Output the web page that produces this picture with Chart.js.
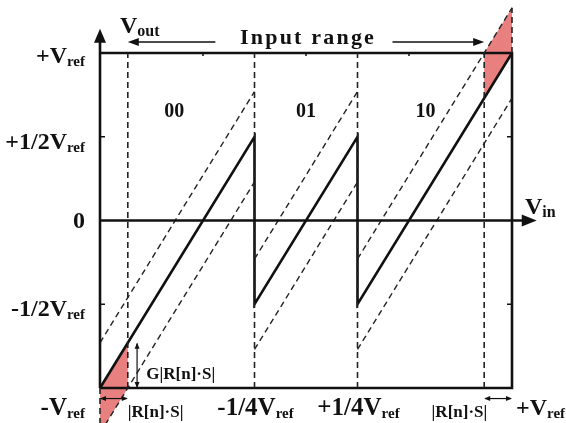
<!DOCTYPE html>
<html><head><meta charset="utf-8">
<script src="https://cdn.jsdelivr.net/npm/chart.js@4/dist/chart.umd.min.js"></script>
<style>html,body{margin:0;padding:0;background:#fff;}canvas{display:block;}</style>
</head><body>
<canvas id="c" width="566" height="423"></canvas>
<script>
// ---- data (normalised to Vref) ----
const sawX = [-1, -0.25, -0.25, 0.25, 0.25, 1];
const sawY = [-1, 0.5, -0.5, 0.5, -0.5, 1];
const upperDashX = [[-1, -0.25], [-0.25, 0.25], [0.25, 1]];
const upperDashY = [[-0.73, 0.77], [-0.23, 0.77], [-0.23, 1.27]];
const lowerDashX = [[-1, -0.25], [-0.25, 0.25], [0.25, 1]];
const lowerDashY = [[-1.27, 0.23], [-0.77, 0.23], [-0.77, 0.73]];
const boundaryX = [-0.865, -0.25, 0.25, 0.865, 1, -1];
const boundaryFrom = [-1, -1, -1, -1, 1, -1];
const boundaryTo = [1, 1, 1, 1, 1.27, -1.27];
const shadeTopX = [0.865, 0.865, 1, 1];
const shadeTopY = [0.73, 1.0, 1.27, 1.0];
const shadeBotX = [-1, -0.865, -0.865, -1];
const shadeBotY = [-1, -0.73, -1.0, -1.27];
const codeLabels = ['00', '01', '10'];
const codeX = [-0.64, 0.0, 0.58];
const codeY = 0.62;
const yTickVals = [1, 0.5, 0, -0.5];
const yTickMain = ['+V', '+1/2V', '0', '-1/2V'];
const yTickSub = ['ref', 'ref', '', 'ref'];
const xTickVals = [-1, -0.25, 0.25, 1];
const xTickMain = ['-V', '-1/4V', '+1/4V', '+V'];
const xTickSub = ['ref', 'ref', 'ref', 'ref'];
const rsLabel = '|R[n]\u00B7S|';
const gLabel = 'G|R[n]\u00B7S|';
const rangeTitle = 'Input range';

const FONT = "'Liberation Serif','Times New Roman',serif";
const INK = '#111';
const RED = 'rgb(232,128,128)';

const pts = (xa, ya) => xa.map((x, i) => ({x, y: ya[i]}));
const datasets = [];
for (let i = 0; i < upperDashX.length; i++) {
  datasets.push({data: pts(upperDashX[i], upperDashY[i]), showLine: true, borderColor: '#222', borderWidth: 1.4, borderDash: [6, 4]});
  datasets.push({data: pts(lowerDashX[i], lowerDashY[i]), showLine: true, borderColor: '#222', borderWidth: 1.4, borderDash: [6, 4]});
}
for (let i = 0; i < boundaryX.length; i++) {
  datasets.push({data: [{x: boundaryX[i], y: boundaryFrom[i]}, {x: boundaryX[i], y: boundaryTo[i]}], showLine: true, borderColor: '#222', borderWidth: 1.6, borderDash: [6, 4]});
}
datasets.push({data: pts(sawX, sawY), showLine: true, borderColor: INK, borderWidth: 2.6});
// frame
datasets.push({data: [{x: -1, y: 1}, {x: 1, y: 1}, {x: 1, y: -1}, {x: -1, y: -1}], showLine: true, borderColor: INK, borderWidth: 2.6});

datasets.forEach(d => { d.clip = false; d.pointRadius = 0; d.tension = 0; });

function label(ctx, main, sub, x, y, align, size, subSize) {
  ctx.font = `bold ${size}px ${FONT}`;
  const w1 = ctx.measureText(main).width;
  ctx.font = `bold ${subSize}px ${FONT}`;
  const w2 = sub ? ctx.measureText(sub).width : 0;
  let x0 = align === 'right' ? x - w1 - w2 : align === 'center' ? x - (w1 + w2) / 2 : x;
  ctx.textAlign = 'left';
  ctx.textBaseline = 'alphabetic';
  ctx.font = `bold ${size}px ${FONT}`;
  ctx.fillText(main, x0, y);
  if (sub) { ctx.font = `bold ${subSize}px ${FONT}`; ctx.fillText(sub, x0 + w1, y + 3); }
}
function head(ctx, tx, ty, dx, dy, len, half) {
  const px = -dy, py = dx;
  ctx.beginPath();
  ctx.moveTo(tx, ty);
  ctx.lineTo(tx - dx * len + px * half, ty - dy * len + py * half);
  ctx.lineTo(tx - dx * len - px * half, ty - dy * len - py * half);
  ctx.closePath();
  ctx.fill();
}
function seg(ctx, x1, y1, x2, y2, w) {
  ctx.lineWidth = w; ctx.beginPath(); ctx.moveTo(x1, y1); ctx.lineTo(x2, y2); ctx.stroke();
}

const shading = {
  id: 'shading',
  beforeDatasetsDraw(chart) {
    const ctx = chart.ctx, xs = chart.scales.x, ys = chart.scales.y;
    ctx.save();
    ctx.fillStyle = RED;
    [[shadeTopX, shadeTopY], [shadeBotX, shadeBotY]].forEach(([xa, ya]) => {
      ctx.beginPath();
      xa.forEach((x, i) => {
        const px = xs.getPixelForValue(x), py = ys.getPixelForValue(ya[i]);
        i ? ctx.lineTo(px, py) : ctx.moveTo(px, py);
      });
      ctx.closePath();
      ctx.fill();
    });
    ctx.restore();
  }
};

const overlay = {
  id: 'overlay',
  afterDatasetsDraw(chart) {
    const ctx = chart.ctx, xs = chart.scales.x, ys = chart.scales.y;
    const X = v => xs.getPixelForValue(v), Y = v => ys.getPixelForValue(v);
    ctx.save();
    ctx.strokeStyle = INK; ctx.fillStyle = INK; ctx.setLineDash([]);
    // axes
    seg(ctx, X(-1), Y(-1), X(-1), Y(1.1), 2.6);
    head(ctx, X(-1), Y(1.145), 0, -1, 14, 6);
    seg(ctx, X(-1), Y(0), X(1.07), Y(0), 2.6);
    head(ctx, X(1.12), Y(0), 1, 0, 15, 6);
    // tick marks
    [0.5, -0.5].forEach(v => { seg(ctx, X(-1), Y(v), X(-1) + 5, Y(v), 1.5); seg(ctx, X(1), Y(v), X(1) - 5, Y(v), 1.5); });
    [-0.5, 0, 0.5].forEach(v => seg(ctx, X(v), Y(1), X(v), Y(1) + 3, 1.5));
    // input range arrows
    const yr = Y(1.066);
    seg(ctx, X(-0.44), yr, X(-0.85), yr, 1.5);
    head(ctx, X(-0.865), yr, -1, 0, 11, 4);
    seg(ctx, X(0.42), yr, X(0.85), yr, 1.5);
    head(ctx, X(0.865), yr, 1, 0, 11, 4);
    ctx.save();
    ctx.font = `bold 22px ${FONT}`;
    ctx.letterSpacing = '2.2px';
    ctx.textAlign = 'left'; ctx.textBaseline = 'alphabetic';
    const tw = ctx.measureText(rangeTitle).width;
    ctx.fillText(rangeTitle, X(0.01) - tw / 2, Y(1.06) + 1);
    ctx.restore();
    // small R*S arrows at bottom
    const yb = Y(-1.063);
    seg(ctx, X(-0.995), yb, X(-0.87), yb, 1.2);
    head(ctx, X(-1), yb, -1, 0, 6, 2.5); head(ctx, X(-0.865), yb, 1, 0, 6, 2.5);
    seg(ctx, X(0.87), yb, X(0.995), yb, 1.2);
    head(ctx, X(0.865), yb, -1, 0, 6, 2.5); head(ctx, X(1), yb, 1, 0, 6, 2.5);
    // G*R*S vertical arrow
    const xg = X(-0.82);
    seg(ctx, xg, Y(-0.735), xg, Y(-0.995), 1.2);
    head(ctx, xg, Y(-0.73), 0, -1, 6, 2.5); head(ctx, xg, Y(-1), 0, 1, 6, 2.5);
    ctx.font = `bold 17px ${FONT}`; ctx.textAlign = 'left'; ctx.textBaseline = 'alphabetic';
    ctx.fillText(gLabel, X(-0.775), Y(-0.91) + 6);
    ctx.fillText(rsLabel, X(-0.865), Y(-1) + 29);
    ctx.textAlign = 'right';
    ctx.fillText(rsLabel, X(0.88), Y(-1) + 29);
    // y tick labels
    yTickVals.forEach((v, i) => {
      const dy = v === 1 ? 10 : v === 0 ? 7 : 12;
      label(ctx, yTickMain[i], yTickSub[i], X(-1) - 15, Y(v) + dy, 'right', 24, 15);
    });
    // x tick labels
    xTickVals.forEach((v, i) => {
      const al = v === -1 ? 'right' : v === 1 ? 'left' : 'center';
      const xx = v === -1 ? X(v) - 15 : v === 1 ? X(v) + 4 : X(v) + 1;
      label(ctx, xTickMain[i], xTickSub[i], xx, Y(-1) + 27, al, v === 1 ? 24 : 25, 15);
    });
    // axis names
    label(ctx, 'V', 'out', X(-1) + 20, Y(1) - 20, 'left', 24, 16);
    label(ctx, 'V', 'in', X(1) + 13, Y(0) - 7, 'left', 24, 16);
    // code labels
    ctx.font = `bold 20px ${FONT}`; ctx.textAlign = 'center'; ctx.textBaseline = 'alphabetic';
    codeLabels.forEach((t, i) => ctx.fillText(t, X(codeX[i]), Y(codeY)));
    ctx.restore();
  }
};

new Chart(document.getElementById('c'), {
  type: 'scatter',
  data: {datasets},
  options: {
    responsive: false,
    animation: false,
    layout: {padding: {left: 100, right: 54, top: 53, bottom: 35}},
    scales: {
      x: {type: 'linear', min: -1, max: 1, display: false},
      y: {type: 'linear', min: -1, max: 1, display: false}
    },
    plugins: {legend: {display: false}, tooltip: {enabled: false}},
    elements: {point: {radius: 0}}
  },
  plugins: [shading, overlay]
});
</script>
</body></html>
